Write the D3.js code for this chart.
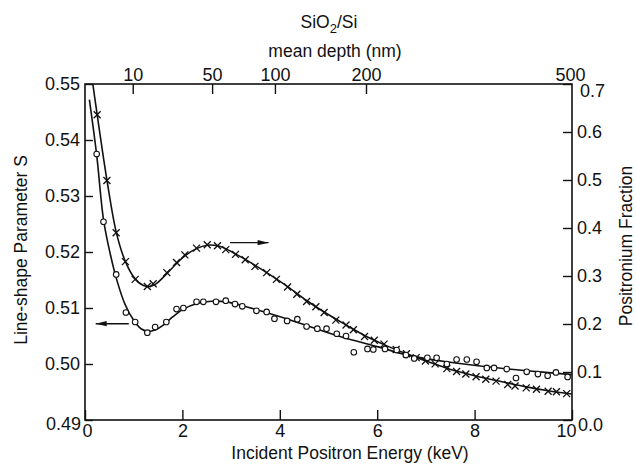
<!DOCTYPE html>
<html>
<head>
<meta charset="utf-8">
<script src="https://cdn.jsdelivr.net/npm/d3@7"></script>
<style>
  html, body { margin: 0; padding: 0; background: #fff; }
  svg { display: block; }
  text { font-family: "Liberation Sans", Arial, sans-serif; fill: #111; }
</style>
</head>
<body>
<svg id="chart" width="636" height="466"></svg>
<script>
// ---------------- data ----------------
// Line-shape parameter S (open circles, left axis)
const sEnergy = [0.24,0.38,0.64,0.84,1.03,1.28,1.44,1.67,1.88,2.02,2.29,2.43,2.69,2.89,3.08,3.23,3.52,3.73,3.89,4.15,4.36,4.55,4.77,4.96,5.17,5.36,5.52,5.80,5.92,6.16,6.40,6.59,6.76,7.03,7.22,7.43,7.63,7.84,8.04,8.25,8.40,8.66,8.85,9.07,9.30,9.50,9.67,9.91];
const sValue  = [0.5375,0.5254,0.5160,0.5092,0.5075,0.5056,0.5066,0.5075,0.5098,0.5100,0.5111,0.5111,0.5111,0.5113,0.5107,0.5103,0.5095,0.5093,0.5081,0.5077,0.5080,0.5067,0.5063,0.5063,0.5054,0.5050,0.5021,0.5027,0.5026,0.5027,0.5025,0.5016,0.5010,0.5011,0.5011,0.5000,0.5008,0.5008,0.5004,0.4993,0.4993,0.4991,0.4975,0.4986,0.4982,0.4979,0.4985,0.4977];

// Positronium fraction (crosses, right axis)
const pEnergy = [0.25,0.45,0.64,0.83,1.03,1.28,1.40,1.68,1.88,2.05,2.29,2.51,2.72,2.89,3.09,3.29,3.49,3.73,3.93,4.16,4.35,4.55,4.74,4.91,5.15,5.36,5.51,5.74,5.94,6.14,6.39,6.60,6.80,6.99,7.19,7.43,7.63,7.82,8.03,8.23,8.44,8.68,8.83,9.06,9.27,9.51,9.68,9.89];
const pValue  = [0.636,0.499,0.390,0.330,0.293,0.278,0.284,0.307,0.328,0.344,0.358,0.365,0.363,0.355,0.345,0.334,0.320,0.307,0.293,0.277,0.262,0.247,0.236,0.224,0.208,0.198,0.188,0.174,0.166,0.158,0.147,0.138,0.130,0.123,0.117,0.107,0.101,0.096,0.090,0.085,0.081,0.074,0.071,0.067,0.064,0.060,0.059,0.055];

// fitted curves (solid lines)
const sFitEnergy = [0.09,0.24,0.38,0.52,0.66,0.82,1.0,1.15,1.3,1.45,1.6,1.8,2.0,2.3,2.6,2.9,3.2,3.6,4.2,5.2,6.0,6.67,7.5,8.25,9.07,10];
const sFitValue  = [0.5472,0.5373,0.5258,0.5196,0.5148,0.5107,0.5078,0.5063,0.5058,0.5061,0.5069,0.5084,0.5097,0.5108,0.5112,0.5111,0.5105,0.5095,0.5079,0.5050,0.5031,0.5015,0.5003,0.4995,0.4988,0.4981];
const pFitEnergy = [0.12,0.25,0.45,0.64,0.83,1.03,1.2,1.32,1.45,1.68,1.88,2.05,2.29,2.51,2.72,2.89,3.09,3.3,3.73,4.16,4.55,4.91,5.36,5.74,6.14,6.6,7.0,7.43,7.82,8.23,8.68,9.06,9.51,10];
const pFitValue  = [0.73,0.636,0.500,0.392,0.330,0.294,0.280,0.278,0.283,0.305,0.326,0.342,0.357,0.364,0.363,0.357,0.346,0.334,0.307,0.278,0.249,0.225,0.198,0.176,0.157,0.138,0.123,0.108,0.097,0.087,0.077,0.069,0.061,0.054];

// axes / ticks
const xTicks = [0,2,4,6,8,10];
const sTicks = [0.49,0.50,0.51,0.52,0.53,0.54,0.55];
const pTicks = [0.0,0.1,0.2,0.3,0.4,0.5,0.6,0.7];
const depthTickEnergy = [0.98,2.61,3.90,5.77,10.0];
const depthTickLabels = ["10","50","100","200","500"];

// ---------------- drawing ----------------
const L = 85, R = 572, T = 84, B = 420;
const svg = d3.select("#chart");

const x  = d3.scaleLinear().domain([0,10]).range([L,R]);
const yS = d3.scaleLinear().domain([0.49,0.55]).range([B,T]);
const yP = d3.scaleLinear().domain([0,0.7]).range([B,T]);

const ink = "#111";

svg.append("clipPath").attr("id","plotclip")
  .append("rect").attr("x",L).attr("y",T).attr("width",R-L).attr("height",B-T);

function styleAxis(g){
  g.select(".domain").remove();
  g.selectAll(".tick line").attr("stroke",ink).attr("stroke-width",1.4);
  g.selectAll(".tick text").attr("fill",ink).style("font-size","18px")
   .style("font-family","'Liberation Sans', Arial, sans-serif");
}

// bottom axis
svg.append("g").attr("transform",`translate(0,${B})`)
  .call(d3.axisBottom(x).tickValues(xTicks).tickSize(-10).tickPadding(4).tickFormat(d3.format("d")))
  .call(styleAxis)
  .call(g => g.selectAll(".tick text").filter(d => d === 10).attr("dx",-6))
  .call(g => g.selectAll(".tick text").filter(d => d === 0).attr("dx",2));
// left axis
svg.append("g").attr("transform",`translate(${L},0)`)
  .call(d3.axisLeft(yS).tickValues(sTicks).tickSize(-8).tickPadding(5).tickFormat(d3.format(".2f")))
  .call(styleAxis)
  .call(g => g.selectAll(".tick text").filter(d => d === 0.49).attr("y",4).attr("x",-4));
// right axis
svg.append("g").attr("transform",`translate(${R},0)`)
  .call(d3.axisRight(yP).tickValues(pTicks).tickSize(-9).tickPadding(5).tickFormat(d3.format(".1f")))
  .call(styleAxis)
  .call(g => g.selectAll(".tick text").filter(d => d === 0.7).attr("y",7).attr("x",8))
  .call(g => g.selectAll(".tick text").filter(d => d === 0).attr("y",5).attr("x",6));
// top axis (mean depth)
svg.append("g").attr("transform",`translate(0,${T})`)
  .call(d3.axisTop(x).tickValues(depthTickEnergy).tickSize(-10).tickPadding(3).tickFormat((d,i)=>depthTickLabels[i]))
  .call(styleAxis)
  .call(g => g.selectAll(".tick line").filter(d => d >= 10).remove())
  .call(g => g.selectAll(".tick text").filter(d => d >= 10).attr("dx",-2));

// frame
svg.append("rect").attr("x",L).attr("y",T).attr("width",R-L).attr("height",B-T)
  .attr("fill","none").attr("stroke",ink).attr("stroke-width",1.6);

// fit curves
const plot = svg.append("g").attr("clip-path","url(#plotclip)");
const sLine = d3.line().x(d=>x(d[0])).y(d=>yS(d[1])).curve(d3.curveCatmullRom.alpha(0.5));
const pLine = d3.line().x(d=>x(d[0])).y(d=>yP(d[1])).curve(d3.curveCatmullRom.alpha(0.5));
plot.append("path").datum(sFitEnergy.map((e,i)=>[e,sFitValue[i]]))
  .attr("d",sLine).attr("fill","none").attr("stroke",ink).attr("stroke-width",1.6);
plot.append("path").datum(pFitEnergy.map((e,i)=>[e,pFitValue[i]]))
  .attr("d",pLine).attr("fill","none").attr("stroke",ink).attr("stroke-width",1.6);

// crosses
plot.selectAll("path.cross").data(pEnergy.map((e,i)=>[e,pValue[i]])).join("path")
  .attr("class","cross")
  .attr("transform",d=>`translate(${x(d[0])},${yP(d[1])})`)
  .attr("d","M-3.5,-3.5L3.5,3.5M-3.5,3.5L3.5,-3.5")
  .attr("stroke",ink).attr("stroke-width",1.3).attr("fill","none");

// circles
plot.selectAll("circle.pt").data(sEnergy.map((e,i)=>[e,sValue[i]])).join("circle")
  .attr("class","pt")
  .attr("cx",d=>x(d[0])).attr("cy",d=>yS(d[1])).attr("r",2.8)
  .attr("fill","#fff").attr("stroke",ink).attr("stroke-width",1.1);

// arrows (data coordinates)
function arrow(x1,x2,y,dir){
  const g = svg.append("g");
  g.append("line").attr("x1",x1).attr("x2",x2).attr("y1",y).attr("y2",y)
    .attr("stroke",ink).attr("stroke-width",1.4);
  const tip = dir<0 ? x1 : x2;
  g.append("path")
    .attr("d",`M${tip},${y}L${tip - dir*11},${y-2.6}L${tip - dir*11},${y+2.6}Z`)
    .attr("fill",ink);
}
arrow(x(0.22), x(0.90), yS(0.5072), -1);
arrow(x(2.98), x(3.77), yP(0.3695), 1);

// titles
svg.append("text").attr("x",350).attr("y",459).attr("text-anchor","middle")
  .style("font-size","17.5px").text("Incident Positron Energy (keV)");
svg.append("text").attr("transform","translate(27,250) rotate(-90)").attr("text-anchor","middle")
  .style("font-size","17.5px").text("Line-shape Parameter S");
svg.append("text").attr("transform","translate(632,246) rotate(-90)").attr("text-anchor","middle")
  .style("font-size","17.5px").text("Positronium Fraction");
svg.append("text").attr("x",335).attr("y",57).attr("text-anchor","middle")
  .style("font-size","17.5px").text("mean depth (nm)");
const st = svg.append("text").attr("x",329).attr("y",28).attr("text-anchor","middle")
  .style("font-size","17.5px");
st.append("tspan").text("SiO");
st.append("tspan").attr("dy",5).style("font-size","13px").text("2");
st.append("tspan").attr("dy",-5).text("/Si");
</script>
</body>
</html>
